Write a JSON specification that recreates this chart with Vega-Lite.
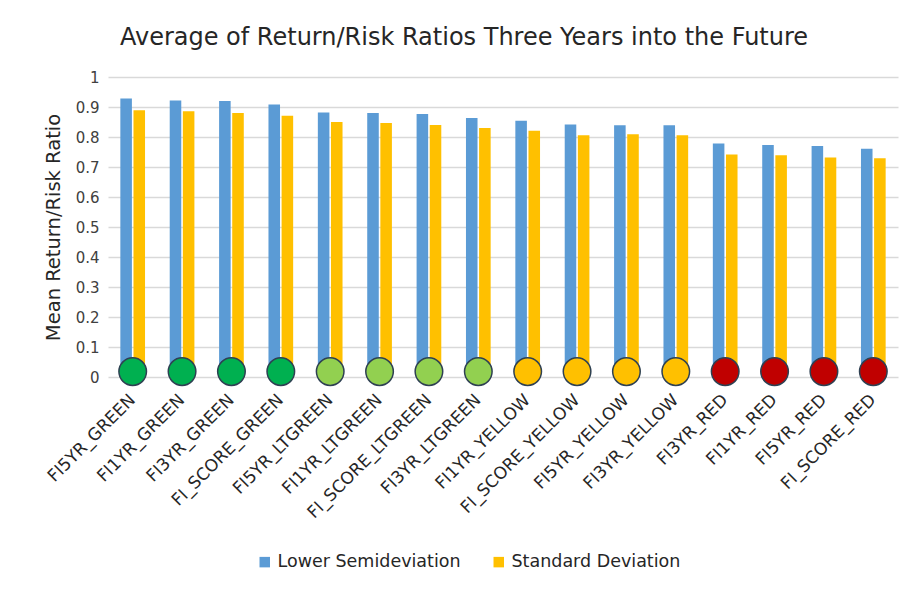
{
  "$schema": "https://vega.github.io/schema/vega-lite/v6.json",
  "width": 790,
  "height": 300,
  "autosize": {"type": "none"},
  "padding": {"left": 108, "top": 77, "right": 18, "bottom": 213},
  "background": "white",
  "config": {
    "font": "DejaVu Sans",
    "view": {"stroke": null},
    "axis": {"labelFont": "DejaVu Sans", "titleFont": "DejaVu Sans"},
    "legend": {"labelFont": "DejaVu Sans"}
  },
  "title": {
    "text": "Average of Return/Risk Ratios Three Years into the Future",
    "font": "DejaVu Sans",
    "fontSize": 24,
    "fontWeight": "normal",
    "color": "#262626",
    "anchor": "middle",
    "dx": -39,
    "offset": 20
  },
  "datasets": {
    "bars": [
      {"cat": "FI5YR_GREEN", "series": "Lower Semideviation", "value": 0.928},
      {"cat": "FI5YR_GREEN", "series": "Standard Deviation", "value": 0.889},
      {"cat": "FI1YR_GREEN", "series": "Lower Semideviation", "value": 0.922},
      {"cat": "FI1YR_GREEN", "series": "Standard Deviation", "value": 0.886},
      {"cat": "FI3YR_GREEN", "series": "Lower Semideviation", "value": 0.920},
      {"cat": "FI3YR_GREEN", "series": "Standard Deviation", "value": 0.880},
      {"cat": "FI_SCORE_GREEN", "series": "Lower Semideviation", "value": 0.908},
      {"cat": "FI_SCORE_GREEN", "series": "Standard Deviation", "value": 0.871},
      {"cat": "FI5YR_LTGREEN", "series": "Lower Semideviation", "value": 0.882},
      {"cat": "FI5YR_LTGREEN", "series": "Standard Deviation", "value": 0.850},
      {"cat": "FI1YR_LTGREEN", "series": "Lower Semideviation", "value": 0.880},
      {"cat": "FI1YR_LTGREEN", "series": "Standard Deviation", "value": 0.847},
      {"cat": "FI_SCORE_LTGREEN", "series": "Lower Semideviation", "value": 0.877},
      {"cat": "FI_SCORE_LTGREEN", "series": "Standard Deviation", "value": 0.840},
      {"cat": "FI3YR_LTGREEN", "series": "Lower Semideviation", "value": 0.863},
      {"cat": "FI3YR_LTGREEN", "series": "Standard Deviation", "value": 0.830},
      {"cat": "FI1YR_YELLOW", "series": "Lower Semideviation", "value": 0.854},
      {"cat": "FI1YR_YELLOW", "series": "Standard Deviation", "value": 0.821},
      {"cat": "FI_SCORE_YELLOW", "series": "Lower Semideviation", "value": 0.842},
      {"cat": "FI_SCORE_YELLOW", "series": "Standard Deviation", "value": 0.806},
      {"cat": "FI5YR_YELLOW", "series": "Lower Semideviation", "value": 0.839},
      {"cat": "FI5YR_YELLOW", "series": "Standard Deviation", "value": 0.809},
      {"cat": "FI3YR_YELLOW", "series": "Lower Semideviation", "value": 0.839},
      {"cat": "FI3YR_YELLOW", "series": "Standard Deviation", "value": 0.806},
      {"cat": "FI3YR_RED", "series": "Lower Semideviation", "value": 0.778},
      {"cat": "FI3YR_RED", "series": "Standard Deviation", "value": 0.742},
      {"cat": "FI1YR_RED", "series": "Lower Semideviation", "value": 0.773},
      {"cat": "FI1YR_RED", "series": "Standard Deviation", "value": 0.739},
      {"cat": "FI5YR_RED", "series": "Lower Semideviation", "value": 0.770},
      {"cat": "FI5YR_RED", "series": "Standard Deviation", "value": 0.732},
      {"cat": "FI_SCORE_RED", "series": "Lower Semideviation", "value": 0.761},
      {"cat": "FI_SCORE_RED", "series": "Standard Deviation", "value": 0.729}
    ],
    "dots": [
      {"cat": "FI5YR_GREEN", "rating": "GREEN"},
      {"cat": "FI1YR_GREEN", "rating": "GREEN"},
      {"cat": "FI3YR_GREEN", "rating": "GREEN"},
      {"cat": "FI_SCORE_GREEN", "rating": "GREEN"},
      {"cat": "FI5YR_LTGREEN", "rating": "LTGREEN"},
      {"cat": "FI1YR_LTGREEN", "rating": "LTGREEN"},
      {"cat": "FI_SCORE_LTGREEN", "rating": "LTGREEN"},
      {"cat": "FI3YR_LTGREEN", "rating": "LTGREEN"},
      {"cat": "FI1YR_YELLOW", "rating": "YELLOW"},
      {"cat": "FI_SCORE_YELLOW", "rating": "YELLOW"},
      {"cat": "FI5YR_YELLOW", "rating": "YELLOW"},
      {"cat": "FI3YR_YELLOW", "rating": "YELLOW"},
      {"cat": "FI3YR_RED", "rating": "RED"},
      {"cat": "FI1YR_RED", "rating": "RED"},
      {"cat": "FI5YR_RED", "rating": "RED"},
      {"cat": "FI_SCORE_RED", "rating": "RED"}
    ]
  },
  "layer": [
    {
      "data": {"name": "bars"},
      "mark": {"type": "bar"},
      "encoding": {
        "x": {
          "field": "cat",
          "type": "nominal",
          "sort": null,
          "scale": {"paddingInner": 0.5, "paddingOuter": 0.25},
          "axis": {
            "title": null,
            "labelAngle": -45,
            "labelAlign": "right",
            "labelBaseline": "middle",
            "labelFontSize": 17,
            "labelColor": "#262626",
            "labelPadding": 20,
            "ticks": false,
            "domain": false
          }
        },
        "xOffset": {"field": "series", "type": "nominal", "scale": {"paddingInner": 0.12}},
        "y": {
          "field": "value",
          "type": "quantitative",
          "scale": {"domain": [0, 1]},
          "axis": {
            "title": "Mean Return/Risk Ratio",
            "titleFontSize": 19.5,
            "titleFontWeight": "normal",
            "titleColor": "#262626",
            "titlePadding": 12,
            "tickCount": 10,
            "format": "~f",
            "labelFontSize": 15,
            "labelColor": "#404040",
            "labelPadding": 9,
            "ticks": false,
            "domain": false,
            "gridColor": "#d9d9d9",
            "gridWidth": 1.5
          }
        },
        "color": {
          "field": "series",
          "type": "nominal",
          "scale": {"domain": ["Lower Semideviation", "Standard Deviation"], "range": ["#5b9bd5", "#ffc000"]},
          "legend": {
            "title": null,
            "orient": "none",
            "direction": "horizontal",
            "legendX": 148,
            "legendY": 476,
            "symbolType": "square",
            "symbolSize": 110,
            "labelFontSize": 17.5,
            "labelLimit": 400,
            "labelColor": "#262626",
            "columnPadding": 29
          }
        }
      }
    },
    {
      "data": {"name": "dots"},
      "mark": {"type": "point", "filled": true, "size": 760, "stroke": "#2e4052", "strokeWidth": 1.5, "opacity": 1},
      "encoding": {
        "x": {"field": "cat", "type": "nominal", "sort": null},
        "y": {"datum": 0.018},
        "fill": {
          "field": "rating",
          "type": "nominal",
          "scale": {"domain": ["GREEN", "LTGREEN", "YELLOW", "RED"], "range": ["#00b050", "#92d050", "#ffc000", "#c00000"]},
          "legend": null
        }
      }
    }
  ],
  "resolve": {"scale": {"color": "independent"}}
}
